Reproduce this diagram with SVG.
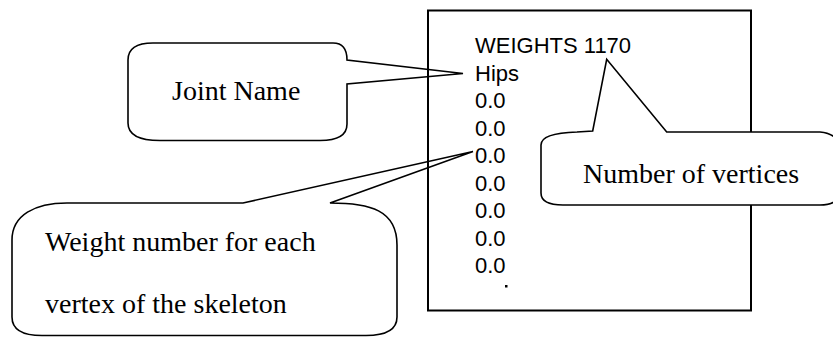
<svg xmlns="http://www.w3.org/2000/svg" width="833" height="339" viewBox="0 0 833 339">
<style>
.call{stroke:#000;stroke-width:1.6;stroke-linejoin:miter;fill:none}
.callw{fill:#fff}
.box{fill:none;stroke:#000;stroke-width:2}
.ser{font-family:"Liberation Serif","Times New Roman",serif;font-size:28px;fill:#000}
.san{font-family:"Liberation Sans",Arial,sans-serif;font-size:22px;fill:#000}
</style>
<rect width="833" height="339" fill="#fff"/>
<g id="file-box">
<rect class="box" x="428" y="10.5" width="323" height="300"/>
<text class="san" x="475" y="53">WEIGHTS 1170</text>
<text class="san" x="475" y="80.5">Hips</text>
<text class="san" x="475" y="108">0.0</text>
<text class="san" x="475" y="135.5">0.0</text>
<text class="san" x="475" y="163">0.0</text>
<text class="san" x="475" y="190.5">0.0</text>
<text class="san" x="475" y="218">0.0</text>
<text class="san" x="475" y="245.5">0.0</text>
<text class="san" x="475" y="273">0.0</text>
<rect x="505" y="285" width="2.5" height="2.5" fill="#000"/>
</g>
<g id="joint-name">
<path class="call" d="M153,43 L333,43 Q347,43 347,60 L463,73.5 L347,84 L347,124 Q347,140.5 320,140.5 L160,140.5 Q128,140.5 128,123 L128,60 Q128,43 153,43 Z"/>
<text class="ser" x="172" y="100">Joint Name</text>
</g>
<g id="weight-number">
<path class="call" d="M67,203 L243,203 L473,151.5 L330,203 C370,203 397,210 397,245 L397,317 Q397,335.5 366,335.5 L42,335.5 Q12,335.5 12,317 L12,240 C12,215 35,203 67,203 Z"/>
<text class="ser" x="45" y="251">Weight number for each</text>
<text class="ser" x="45" y="313">vertex of the skeleton</text>
</g>
<g id="number-of-vertices">
<path class="call callw" d="M541,145 Q541,133 577,132 L592.7,131 L606.7,59.3 L666.7,132 L820,132 Q840,134 840,150 L840,190 Q840,205 820,205 L563,205 Q541,205 541,193 Z"/>
<text class="ser" x="583" y="183">Number of vertices</text>
</g>
</svg>
